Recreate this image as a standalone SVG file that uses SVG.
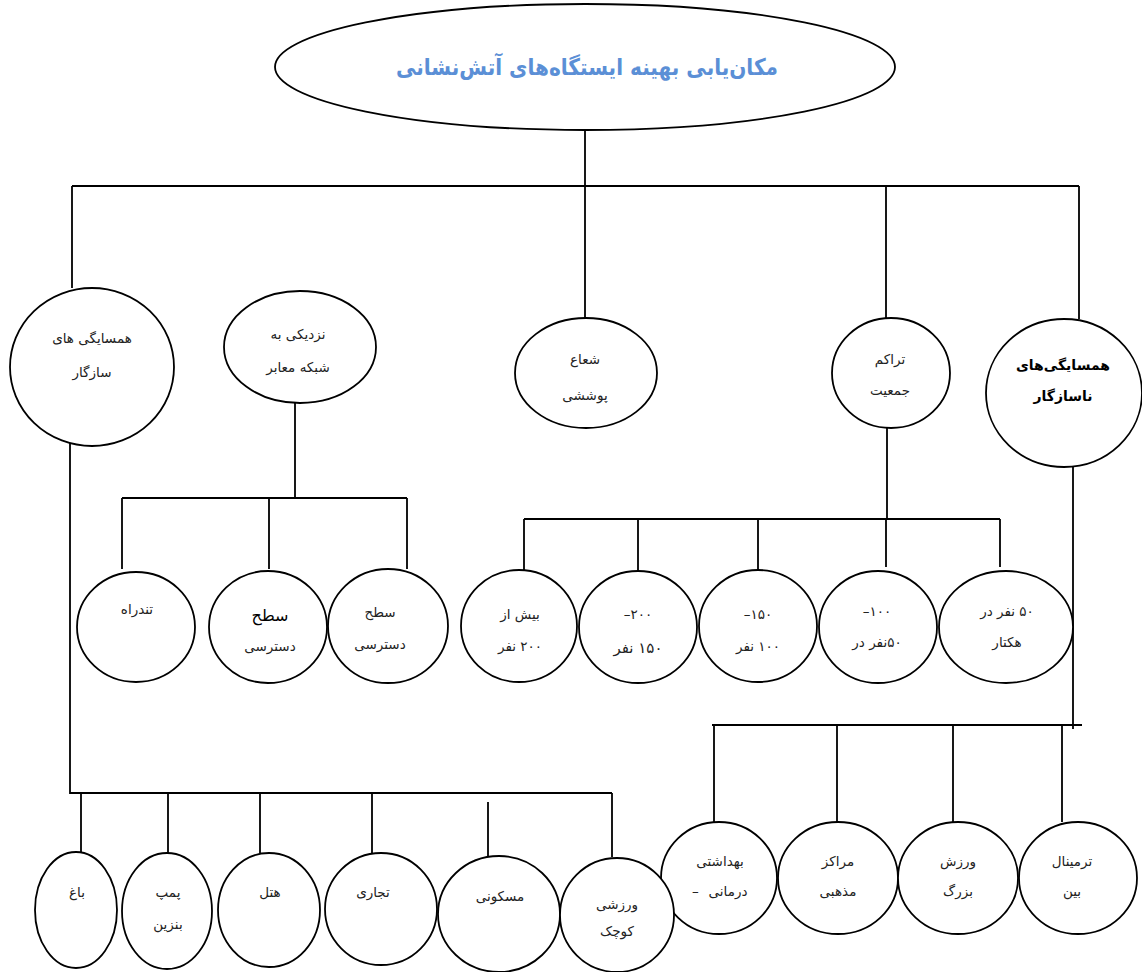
<svg xmlns="http://www.w3.org/2000/svg" width="1142" height="972" viewBox="0 0 1142 972">
<style>
.n{fill:#fff;stroke:#000;stroke-width:1.8}
.c{fill:none;stroke:#000;stroke-width:1.8}
.t{font-family:"DejaVu Sans","Noto Sans",sans-serif;font-size:13.5px;fill:#222;text-anchor:middle;direction:rtl}
.b{font-weight:bold;font-size:14px;fill:#000}
.d{font-family:"DejaVu Sans","Noto Sans",sans-serif;font-size:13.5px;fill:#222;text-anchor:start;direction:ltr}
.title{font-family:"DejaVu Sans","Noto Sans",sans-serif;font-size:23px;font-weight:bold;fill:#5b8fd6;text-anchor:middle;direction:rtl}
</style>
<rect width="1142" height="972" fill="#fff"/>
<g id="connectors">
<path class="c" d="M585,130 V186 M72,186 H1079 M72,186 V288 M585,186 V319 M886,186 V318 M1079,186 V319"/>
<path class="c" d="M70,403 V793 H612 M81,793 V853 M168,793 V853 M260,793 V853 M372,793 V853 M488,802 V860 M612,793 V857"/>
<path class="c" d="M295,403 V498 M122,498 H407 M122,498 V569 M269,498 V569 M407,498 V569"/>
<path class="c" d="M887,428 V519 M524,519 H1000 M524,519 V571 M638,519 V571 M758,519 V571 M886,519 V567 M1000,519 V567"/>
<path class="c" d="M1073,429 V729 M712,725 H1082 M714,725 V822 M837,725 V822 M953,725 V822 M1062,725 V822"/>
</g>
<g id="root"><ellipse class="n" cx="585" cy="67" rx="310" ry="63"/><text class="title" x="587" y="75" textLength="382" lengthAdjust="spacingAndGlyphs">مکان‌یابی بهینه ایستگاه‌های آتش‌نشانی</text></g>
<g id="n-sazgar"><ellipse class="n" cx="92" cy="367" rx="82" ry="79"/><text class="t" x="92" y="343">همسایگی های</text><text class="t" x="92" y="377">سازگار</text></g>
<g id="n-maaber"><ellipse class="n" cx="300" cy="347" rx="76" ry="56"/><text class="t" x="298" y="339">نزدیکی به</text><text class="t" x="298" y="372">شبکه معابر</text></g>
<g id="n-shoa"><ellipse class="n" cx="586" cy="373" rx="71" ry="55"/><text class="t" x="585" y="364">شعاع</text><text class="t" x="585" y="400">پوششی</text></g>
<g id="n-tarakom"><ellipse class="n" cx="891" cy="373" rx="59" ry="55"/><text class="t" x="890" y="364">تراکم</text><text class="t" x="890" y="395">جمعیت</text></g>
<g id="n-nasazgar"><ellipse class="n" cx="1064" cy="393" rx="78" ry="74"/><text class="t b" x="1063" y="370">همسایگی‌های</text><text class="t b" x="1063" y="401">ناسازگار</text></g>
<g id="n-tondrah"><ellipse class="n" cx="136" cy="627" rx="59" ry="55"/><text class="t" x="137" y="614">تندراه</text></g>
<g id="n-sath1"><ellipse class="n" cx="268" cy="627" rx="59" ry="56"/><text class="t" x="270" y="621" style="font-size:16px;fill:#000">سطح</text><text class="t" x="270" y="651">دسترسی</text></g>
<g id="n-sath2"><ellipse class="n" cx="388" cy="626" rx="60" ry="57"/><text class="t" x="380" y="617">سطح</text><text class="t" x="380" y="649">دسترسی</text></g>
<g id="n-200plus"><ellipse class="n" cx="519" cy="626" rx="58" ry="56"/><text class="t" x="520" y="619">بیش از</text><text class="t" x="520" y="651">۲۰۰ نفر</text></g>
<g id="n-200-150"><ellipse class="n" cx="638" cy="627" rx="59" ry="56"/><text class="t" x="638" y="619">۲۰۰–</text><text class="t" x="638" y="653" style="font-size:15px">۱۵۰ نفر</text></g>
<g id="n-150-100"><ellipse class="n" cx="758" cy="626" rx="59" ry="56"/><text class="t" x="758" y="619">۱۵۰–</text><text class="t" x="758" y="651">۱۰۰ نفر</text></g>
<g id="n-100-50"><ellipse class="n" cx="878" cy="627" rx="59" ry="56"/><text class="t" x="877" y="616">۱۰۰–</text><text class="t" x="877" y="647">۵۰نفر در</text></g>
<g id="n-50"><ellipse class="n" cx="1006" cy="627" rx="67" ry="56"/><text class="t" x="1007" y="616">۵۰ نفر در</text><text class="t" x="1007" y="647">هکتار</text></g>
<g id="n-behdasht"><ellipse class="n" cx="719" cy="878" rx="58" ry="56"/><text class="t" x="720" y="866">بهداشتی</text><text class="d" x="692" y="896">–</text><text class="t" x="728" y="896">درمانی</text></g>
<g id="n-mazhabi"><ellipse class="n" cx="838" cy="878" rx="60" ry="56"/><text class="t" x="838" y="866">مراکز</text><text class="t" x="838" y="896">مذهبی</text></g>
<g id="n-varzesh"><ellipse class="n" cx="958" cy="878" rx="60" ry="56"/><text class="t" x="958" y="866">ورزش</text><text class="t" x="958" y="896">بزرگ</text></g>
<g id="n-terminal"><ellipse class="n" cx="1078" cy="878" rx="59" ry="56"/><text class="t" x="1072" y="866">ترمینال</text><text class="t" x="1072" y="896">بین</text></g>
<g id="n-bagh"><ellipse class="n" cx="76" cy="910" rx="41" ry="58"/><text class="t" x="77" y="897">باغ</text></g>
<g id="n-pomp"><ellipse class="n" cx="167" cy="911" rx="45" ry="58"/><text class="t" x="168" y="897">پمپ</text><text class="t" x="168" y="929">بنزین</text></g>
<g id="n-hotel"><ellipse class="n" cx="269" cy="910" rx="51" ry="57"/><text class="t" x="270" y="897">هتل</text></g>
<g id="n-tejari"><ellipse class="n" cx="381" cy="909" rx="56" ry="56"/><text class="t" x="373" y="897">تجاری</text></g>
<g id="n-maskoni"><ellipse class="n" cx="499" cy="914" rx="61" ry="58"/><text class="t" x="500" y="901">مسکونی</text></g>
<g id="n-varzeshi"><ellipse class="n" cx="617" cy="915" rx="57" ry="57"/><text class="t" x="617" y="909">ورزشی</text><text class="t" x="617" y="936">کوچک</text></g>
</svg>
